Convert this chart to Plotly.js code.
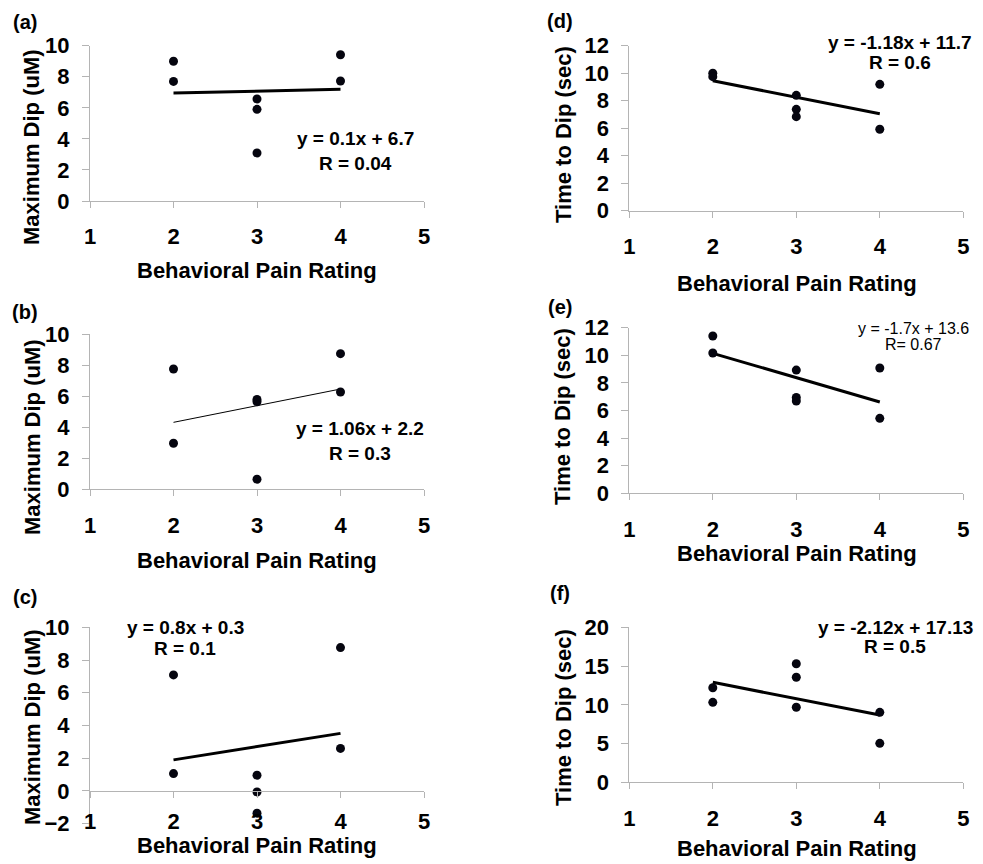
<!DOCTYPE html>
<html>
<head>
<meta charset="utf-8">
<script src="https://cdn.plot.ly/plotly-3.0.1.min.js"></script>
<style>html,body{margin:0;padding:0;background:#fff;}#chart{width:983px;height:864px;}</style>
</head>
<body>
<div id="chart"></div>
<script>
// ---- data ----
const panelLabels = ["(a)", "(b)", "(c)", "(d)", "(e)", "(f)"];
const xTitle = "Behavioral Pain Rating";
const yTitleLeft = "Maximum Dip (uM)";
const yTitleRight = "Time to Dip (sec)";

const ratingX = [2, 2, 3, 3, 3, 4, 4];
const aY = [9.0, 7.7, 6.57, 5.9, 3.09, 9.42, 7.73];
const bY = [7.76, 2.97, 5.8, 5.65, 0.65, 8.75, 6.28];
const cY = [7.09, 1.06, 0.96, -0.06, -1.36, 8.76, 2.6];
const dY = [10.0, 9.75, 8.39, 7.37, 6.84, 9.19, 5.92];
const eY = [11.4, 10.17, 8.93, 6.95, 6.69, 9.08, 5.43];
const fY = [12.2, 10.32, 15.3, 13.55, 9.68, 9.03, 5.03];

const trendX = [2, 4];
const aTrend = [6.95, 7.19];
const bTrend = [4.32, 6.47];
const cTrend = [1.9, 3.52];
const dTrend = [9.45, 7.05];
const eTrend = [10.14, 6.62];
const fTrend = [12.9, 8.68];

const eqText = ["y = 0.1x + 6.7", "y = 1.06x + 2.2", "y = 0.8x + 0.3", "y = -1.18x + 11.7", "y = -1.7x + 13.6", "y = -2.12x + 17.13"];
const rText = ["R = 0.04", "R = 0.3", "R = 0.1", "R = 0.6", "R= 0.67", "R = 0.5"];

const yRanges = [[0, 10], [0, 10], [-2, 10], [0, 12], [0, 12], [0, 20]];
const yDticks = [2, 2, 2, 2, 2, 5];
const xTickVals = [1, 2, 3, 4, 5];

// ---- layout geometry ----
const W = 983, H = 864;
const FONT = "Arial, 'Liberation Sans', sans-serif";
const px2x = p => p / W;
const px2y = p => 1 - p / H;

const xDomL = [px2x(90), px2x(424)];
const xDomR = [px2x(629.3), px2x(963.3)];
const yDoms = [
  [px2y(201), px2y(45.7)],
  [px2y(489.3), px2y(334.3)],
  [px2y(823.7), px2y(627.3)],
  [px2y(210.7), px2y(45.7)],
  [px2y(493.3), px2y(327.7)],
  [px2y(782.3), px2y(627.3)]
];

const series = [aY, bY, cY, dY, eY, fY];
const trends = [aTrend, bTrend, cTrend, dTrend, eTrend, fTrend];
const trendWidths = [3, 1, 3, 3, 3, 3];

const traces = [];
series.forEach((ys, i) => {
  const sx = i === 0 ? 'x' : 'x' + (i + 1);
  const sy = i === 0 ? 'y' : 'y' + (i + 1);
  traces.push({
    type: 'scatter', mode: 'lines', x: trendX, y: trends[i],
    xaxis: sx, yaxis: sy, line: {color: '#000', width: trendWidths[i]},
    hoverinfo: 'skip', showlegend: false
  });
  traces.push({
    type: 'scatter', mode: 'markers', x: ratingX, y: ys,
    xaxis: sx, yaxis: sy, marker: {color: '#05050f', size: 9},
    cliponaxis: false, showlegend: false
  });
});

const layout = {
  width: W, height: H,
  margin: {l: 0, r: 0, t: 0, b: 0},
  paper_bgcolor: '#fff', plot_bgcolor: 'rgba(0,0,0,0)',
  showlegend: false,
  font: {family: FONT, color: '#000'},
  annotations: []
};

const tickFont = {family: FONT, size: 22, color: '#000', weight: 'bold'};
const axisColor = '#b4b4b4';

for (let i = 0; i < 6; i++) {
  const xk = i === 0 ? 'xaxis' : 'xaxis' + (i + 1);
  const yk = i === 0 ? 'yaxis' : 'yaxis' + (i + 1);
  const yname = i === 0 ? 'y' : 'y' + (i + 1);
  const xname = i === 0 ? 'x' : 'x' + (i + 1);
  const xAx = {
    domain: i < 3 ? xDomL : xDomR,
    anchor: yname, range: [1, 5], tickvals: xTickVals,
    showline: true, linecolor: axisColor, linewidth: 1,
    ticks: 'outside', ticklen: 6, tickcolor: axisColor, tickwidth: 1,
    showgrid: false, zeroline: false, tickfont: tickFont,
    ticklabelstandoff: 10, fixedrange: true
  };
  if (i === 2) {
    // x axis crosses at y = 0
    const d = yDoms[2];
    const r = yRanges[2];
    xAx.anchor = 'free';
    xAx.position = d[0] + (0 - r[0]) / (r[1] - r[0]) * (d[1] - d[0]);
    xAx.ticklabelstandoff = 5;
  }
  layout[xk] = xAx;
  layout[yk] = {
    domain: yDoms[i], anchor: xname, range: yRanges[i], dtick: yDticks[i], tick0: 0,
    showline: true, linecolor: axisColor, linewidth: 1,
    ticks: 'outside', ticklen: 7, tickcolor: axisColor, tickwidth: 1,
    showgrid: false, zeroline: false, tickfont: tickFont,
    ticklabelstandoff: 8, fixedrange: true
  };
}

// panel letters
const letterPos = [[25, 22], [25, 312], [25, 597], [560, 21], [560, 307], [560, 593]];
letterPos.forEach((p, i) => {
  layout.annotations.push({
    xref: 'paper', yref: 'paper', x: px2x(p[0]), y: px2y(p[1]),
    xanchor: 'center', yanchor: 'middle', showarrow: false,
    text: panelLabels[i], font: {family: FONT, size: 20, color: '#000', weight: 'bold'}
  });
});

// axis titles
const xTitlePos = [[257, 270], [257, 560], [257, 845], [796.7, 283], [796.7, 553], [796.7, 848]];
const yTitlePos = [[32, 147], [32, 437], [32, 727], [563, 135], [563, 417], [563, 718]];
for (let i = 0; i < 6; i++) {
  layout.annotations.push({
    xref: 'paper', yref: 'paper', x: px2x(xTitlePos[i][0]), y: px2y(xTitlePos[i][1]),
    xanchor: 'center', yanchor: 'middle', showarrow: false,
    text: xTitle, font: {family: FONT, size: 22, color: '#000', weight: 'bold'}
  });
  layout.annotations.push({
    xref: 'paper', yref: 'paper', x: px2x(yTitlePos[i][0]), y: px2y(yTitlePos[i][1]),
    xanchor: 'center', yanchor: 'middle', showarrow: false, textangle: -90,
    text: i < 3 ? yTitleLeft : yTitleRight,
    font: {family: FONT, size: 22, color: '#000', weight: 'bold'}
  });
}

// equation labels (pixel centres: x, equation line y, R line y)
const eqPos = [[355, 138, 163], [360, 428.3, 453.3], [185, 627.3, 648.3], [900, 43, 63], [913, 328, 344], [895, 627.5, 646]];
const eqFontSize = [19, 19, 19, 19, 16, 19];
const eqWeight = ['bold', 'bold', 'bold', 'bold', 'normal', 'bold'];
for (let i = 0; i < 6; i++) {
  const f = {family: FONT, size: eqFontSize[i], color: '#000', weight: eqWeight[i]};
  layout.annotations.push({xref: 'paper', yref: 'paper', x: px2x(eqPos[i][0]), y: px2y(eqPos[i][1]), xanchor: 'center', yanchor: 'middle', showarrow: false, text: eqText[i], font: f});
  layout.annotations.push({xref: 'paper', yref: 'paper', x: px2x(eqPos[i][0]), y: px2y(eqPos[i][2]), xanchor: 'center', yanchor: 'middle', showarrow: false, text: rText[i], font: f});
}

Plotly.newPlot('chart', traces, layout, {staticPlot: true, displayModeBar: false});
</script>
</body>
</html>
